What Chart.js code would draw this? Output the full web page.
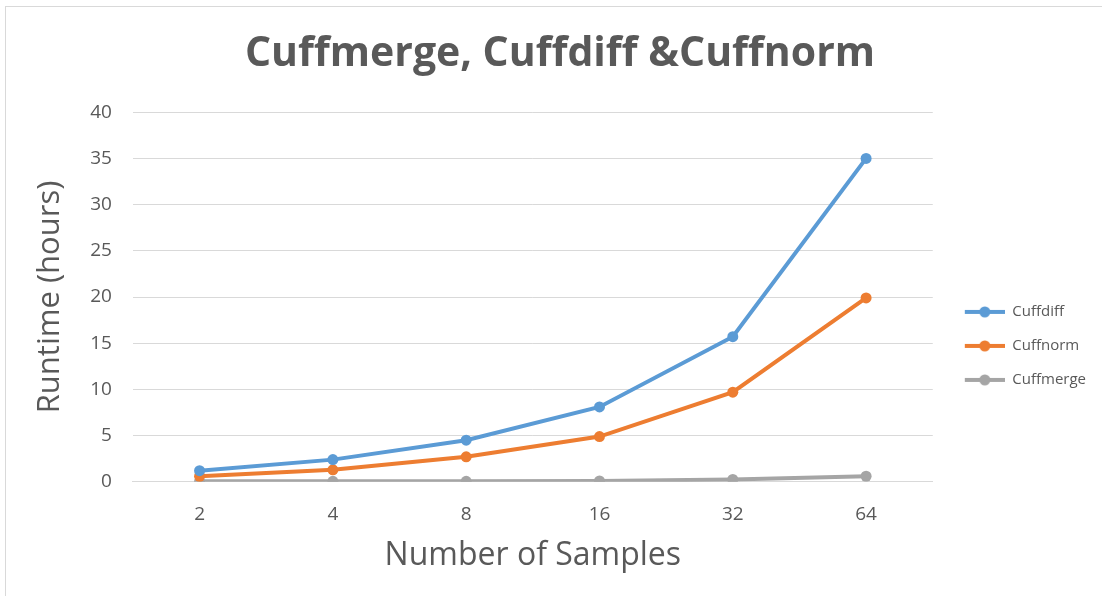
<!DOCTYPE html>
<html>
<head>
<meta charset="utf-8">
<script src="https://cdn.jsdelivr.net/npm/chart.js@4"></script>
<style>
  html, body { margin: 0; padding: 0; background: #fff; }
  .frame {
    position: absolute; left: 5px; top: 6px; width: 1110px; height: 600px;
    border: 1px solid #d9d9d9; box-sizing: border-box;
  }
  .wrap { position: absolute; left: 0; top: 0; width: 1102px; height: 596px; }
</style>
</head>
<body>
<div class="frame"></div>
<div class="wrap"><canvas id="myChart" width="1102" height="596"></canvas></div>
<script>
// data
const samples = ['2', '4', '8', '16', '32', '64'];
const cuffdiff = [1.2, 2.4, 4.5, 8.1, 15.7, 35];
const cuffnorm = [0.6, 1.3, 2.7, 4.9, 9.7, 19.9];
const cuffmerge = [0.05, 0.05, 0.05, 0.1, 0.25, 0.6];
const yTicks = [0, 5, 10, 15, 20, 25, 30, 35, 40];

const textColor = '#595959';
const font = "'Open Sans', 'Liberation Sans', sans-serif";

// legend marker: line with a dot in the middle (some empty space on the left)
function legendMarker(color) {
  let c = document.createElement('canvas');
  c.width = 53; c.height = 12;
  let g = c.getContext('2d');
  g.strokeStyle = color;
  g.lineWidth = 4;
  g.beginPath();
  g.moveTo(13, 6); g.lineTo(53, 6);
  g.stroke();
  g.fillStyle = color;
  g.beginPath();
  g.arc(33, 6, 5.5, 0, Math.PI * 2);
  g.fill();
  return c;
}

function series(label, data, color) {
  return {
    label: label,
    data: data,
    borderColor: color,
    backgroundColor: color,
    borderWidth: 4,
    pointRadius: 5.5,
    pointHoverRadius: 5.5,
    pointBorderWidth: 0,
    tension: 0
  };
}

var ctx = document.getElementById('myChart').getContext('2d');
var chart = new Chart(ctx, {
  type: 'line',
  data: {
    labels: samples,
    datasets: [
      series('Cuffdiff', cuffdiff, '#5b9bd5'),
      series('Cuffnorm', cuffnorm, '#ed7d31'),
      series('Cuffmerge', cuffmerge, '#a5a5a5')
    ]
  },
  options: {
    responsive: false,
    animation: false,
    layout: { padding: { left: 24, right: 6, top: 30, bottom: 17 } },
    plugins: {
      title: {
        display: true,
        text: 'Cuffmerge, Cuffdiff &Cuffnorm',
        color: textColor,
        font: { family: font, size: 41, weight: 'bold' },
        padding: { top: 0, bottom: 33 }
      },
      legend: {
        position: 'right',
        title: {
          display: true,
          text: ' ',
          font: { family: font, size: 14 },
          padding: { top: 66, bottom: 0 }
        },
        labels: {
          color: textColor,
          font: { family: font, size: 15 },
          usePointStyle: true,
          pointStyleWidth: 53,
          padding: 19,
          generateLabels: function (ch) {
            return ch.data.datasets.map((ds, i) => ({
              text: ds.label,
              fontColor: textColor,
              pointStyle: legendMarker(ds.borderColor),
              datasetIndex: i,
              hidden: false,
              lineWidth: 0
            }));
          }
        }
      },
      tooltip: { enabled: false }
    },
    scales: {
      x: {
        offset: true,
        grid: { display: false },
        border: { color: '#d9d9d9', width: 1 },
        ticks: { color: textColor, font: { family: font, size: 19 }, padding: 13 },
        title: {
          display: true,
          text: 'Number of Samples',
          color: textColor,
          font: { family: font, size: 32 },
          padding: { top: -2 }
        }
      },
      y: {
        min: 0,
        max: 40,
        afterBuildTicks: axis => { axis.ticks = yTicks.map(v => ({ value: v })); },
        grid: { color: '#d9d9d9', drawTicks: false },
        border: { display: false },
        ticks: { color: textColor, font: { family: font, size: 19 }, padding: 21 },
        title: {
          display: true,
          text: 'Runtime (hours)',
          color: textColor,
          font: { family: font, size: 31 },
          padding: { top: 8, bottom: 0 }
        }
      }
    }
  }
});
</script>
</body>
</html>
